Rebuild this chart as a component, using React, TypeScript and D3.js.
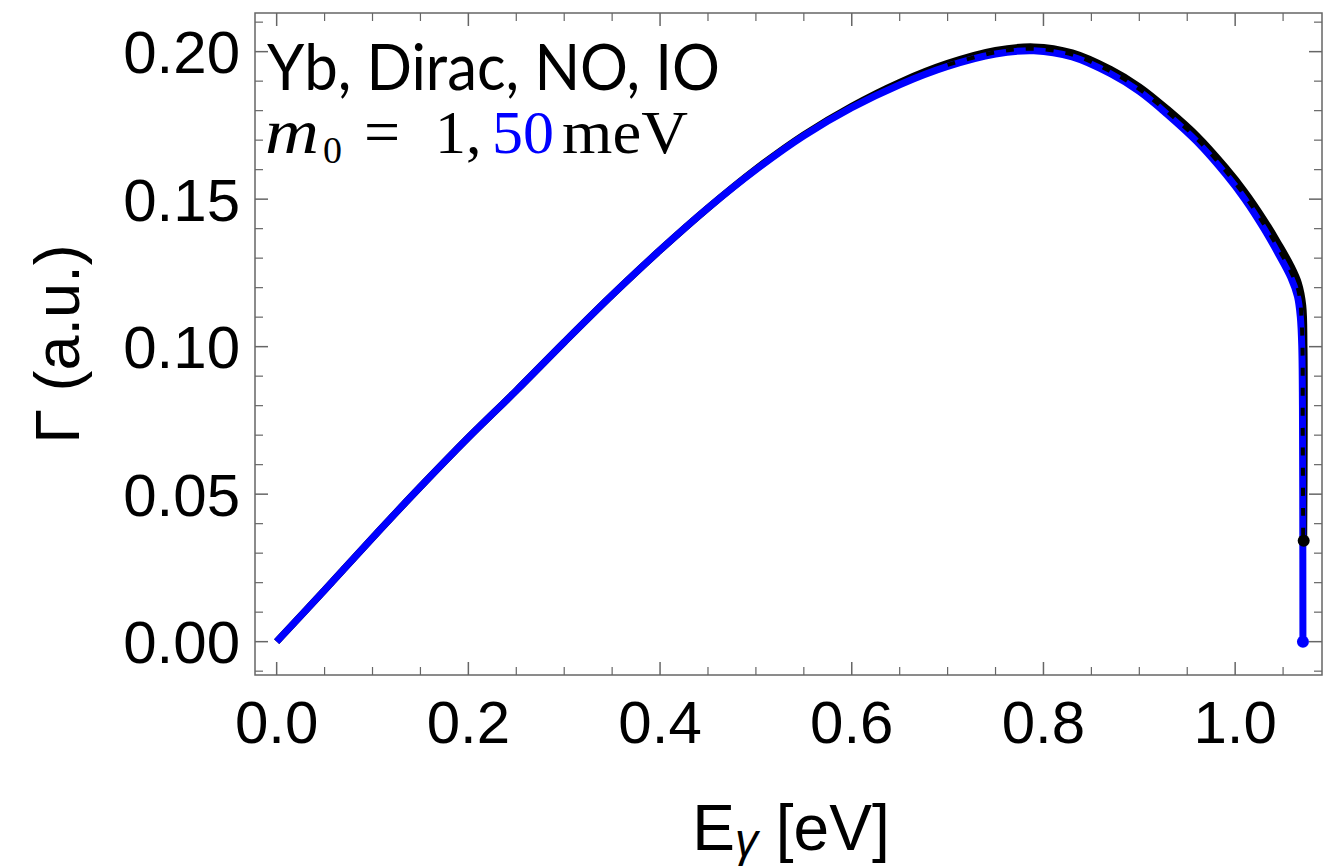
import React from "react";
import * as d3 from "d3";

// ---- data ----
const xTicks = [0, 0.2, 0.4, 0.6, 0.8, 1.0];
const yTicks = [0, 0.05, 0.1, 0.15, 0.2];
const xTickLabels = ["0.0", "0.2", "0.4", "0.6", "0.8", "1.0"];
const yTickLabels = ["0.00", "0.05", "0.10", "0.15", "0.20"];

// m0 = 1 meV (black, solid)
const blackX = [0, 0.05, 0.1, 0.15, 0.2, 0.25, 0.3, 0.35, 0.4, 0.45, 0.5, 0.55, 0.6, 0.65, 0.7, 0.75, 0.79, 0.83, 0.87, 0.9, 0.93, 0.96, 0.99, 1.01, 1.03, 1.045, 1.058, 1.066, 1.0705, 1.0718, 1.072, 1.0715];
const blackY = [0, 0.0175, 0.0352, 0.0525, 0.0692, 0.0851, 0.1015, 0.1175, 0.1327, 0.147, 0.1602, 0.1718, 0.1815, 0.1896, 0.196, 0.2004, 0.2016, 0.1996, 0.194, 0.1881, 0.1803, 0.1715, 0.1607, 0.1525, 0.143, 0.135, 0.1275, 0.1215, 0.114, 0.1, 0.07, 0.0342];

// m0 = 50 meV (blue)
const blueX = [0, 0.05, 0.1, 0.15, 0.2, 0.25, 0.3, 0.35, 0.4, 0.45, 0.5, 0.55, 0.6, 0.65, 0.7, 0.75, 0.79, 0.83, 0.87, 0.9, 0.93, 0.96, 0.99, 1.01, 1.03, 1.045, 1.058, 1.065, 1.068, 1.0695, 1.0702, 1.0705, 1.0707];
const blueY = [0, 0.0175, 0.0352, 0.0525, 0.0692, 0.0851, 0.1015, 0.1175, 0.1327, 0.147, 0.16, 0.1715, 0.181, 0.1888, 0.195, 0.1992, 0.2003, 0.1982, 0.1925, 0.1865, 0.1785, 0.1695, 0.1585, 0.15, 0.14, 0.1315, 0.1235, 0.117, 0.11, 0.1, 0.08, 0.05, 0];

// dashed black (IO) visible part
const ioX = [0.7, 0.75, 0.79, 0.83, 0.87, 0.9, 0.93, 0.96, 0.99, 1.01, 1.03, 1.045, 1.058, 1.066, 1.0695, 1.0705, 1.071];
const ioY = [0.1955, 0.1998, 0.201, 0.199, 0.1933, 0.1873, 0.1794, 0.1705, 0.1596, 0.1512, 0.1415, 0.1333, 0.1255, 0.119, 0.108, 0.07, 0.0342];

const W = 1323;
const H = 866;

export default function App() {
  const x = d3.scaleLinear().domain([-0.0226, 1.0906]).range([255, 1322]);
  const y = d3.scaleLinear().domain([-0.0113, 0.2131]).range([675, 13]);
  const [x0, x1] = x.range();
  const [yb, yt] = y.range();

  const line = d3
    .line<[number, number]>()
    .x((d) => x(d[0]))
    .y((d) => y(d[1]))
    .curve(d3.curveCatmullRom.alpha(0.5));

  const blackPts = blackX.map((v, i) => [v, blackY[i]] as [number, number]);
  const bluePts = blueX.map((v, i) => [v, blueY[i]] as [number, number]);
  const ioPts = ioX.map((v, i) => [v, ioY[i]] as [number, number]);

  const xMinor = d3.range(0, 1.0901, 0.05).filter((v) => !xTicks.some((t) => Math.abs(t - v) < 1e-6));
  const yMinor = d3.range(-0.01, 0.2131, 0.01).filter((v) => !yTicks.some((t) => Math.abs(t - v) < 1e-6));

  const frameColor = "#666";
  const tickFont = "'Liberation Sans', Arial, sans-serif";
  const blackEnd = blackPts[blackPts.length - 1];
  const blueEnd = bluePts[bluePts.length - 1];

  return (
    <div style={{ position: "absolute", left: 0, top: 0 }}>
      <svg width={W} height={H} style={{ display: "block", background: "#fff" }}>
        <defs>
          <clipPath id="clip">
            <rect x={x0} y={yt} width={x1 - x0} height={yb - yt} />
          </clipPath>
        </defs>
        {/* curves */}
        <g clipPath="url(#clip)">
          <path d={line(blackPts) || ""} fill="none" stroke="#000" strokeWidth={7} strokeLinejoin="round" />
          <path d={line(bluePts) || ""} fill="none" stroke="#0000ff" strokeWidth={7} strokeLinejoin="round" />
          <path d={line(ioPts) || ""} fill="none" stroke="#000" strokeWidth={4} strokeDasharray="8 12" />
          <circle cx={x(blackEnd[0])} cy={y(blackEnd[1])} r={6} fill="#000" />
          <circle cx={x(blueEnd[0])} cy={y(blueEnd[1])} r={6} fill="#0000ff" />
        </g>

        {/* frame */}
        <rect x={x0} y={yt} width={x1 - x0} height={yb - yt} fill="none" stroke={frameColor} strokeWidth={1.5} />

        {/* x ticks bottom & top */}
        {xTicks.map((t) => (
          <g key={"xt" + t}>
            <line x1={x(t)} x2={x(t)} y1={yb} y2={yb - 13} stroke={frameColor} strokeWidth={1.5} />
            <line x1={x(t)} x2={x(t)} y1={yt} y2={yt + 13} stroke={frameColor} strokeWidth={1.5} />
          </g>
        ))}
        {xMinor.map((t) => (
          <g key={"xm" + t}>
            <line x1={x(t)} x2={x(t)} y1={yb} y2={yb - 8} stroke={frameColor} strokeWidth={1.2} />
            <line x1={x(t)} x2={x(t)} y1={yt} y2={yt + 8} stroke={frameColor} strokeWidth={1.2} />
          </g>
        ))}
        {/* y ticks left & right */}
        {yTicks.map((t) => (
          <g key={"yt" + t}>
            <line x1={x0} x2={x0 + 13} y1={y(t)} y2={y(t)} stroke={frameColor} strokeWidth={1.5} />
            <line x1={x1} x2={x1 - 13} y1={y(t)} y2={y(t)} stroke={frameColor} strokeWidth={1.5} />
          </g>
        ))}
        {yMinor.map((t) => (
          <g key={"ym" + t}>
            <line x1={x0} x2={x0 + 8} y1={y(t)} y2={y(t)} stroke={frameColor} strokeWidth={1.2} />
            <line x1={x1} x2={x1 - 8} y1={y(t)} y2={y(t)} stroke={frameColor} strokeWidth={1.2} />
          </g>
        ))}

        {/* tick labels */}
        {xTicks.map((t, i) => (
          <text key={"xl" + t} x={x(t)} y={743} textAnchor="middle" fontFamily={tickFont} fontSize={60} fill="#000">
            {xTickLabels[i]}
          </text>
        ))}
        {yTicks.map((t, i) => (
          <text key={"yl" + t} x={240} y={y(t) + 21.5} textAnchor="end" fontFamily={tickFont} fontSize={60} fill="#000">
            {yTickLabels[i]}
          </text>
        ))}

        {/* axis titles */}
        <text x={791} y={850} textAnchor="middle" fontFamily={tickFont} fontSize={64} fill="#000">
          E
          <tspan fontSize={46} dy={6} fontStyle="italic">γ</tspan>
          <tspan dy={-6}> [eV]</tspan>
        </text>
        <text
          transform={`translate(79,${(yt + yb) / 2}) rotate(-90)`}
          textAnchor="middle"
          fontFamily={tickFont}
          fontSize={63}
          fill="#000"
        >
          Γ (a.u.)
        </text>

        {/* in-plot label */}
        <text x={267} y={90} fontFamily="Lato, 'Open Sans', sans-serif" fontSize={64} fill="#000" textLength={453} lengthAdjust="spacingAndGlyphs">
          Yb, Dirac, NO, IO
        </text>
        <g fontFamily="'Liberation Serif', 'DejaVu Serif', serif" fill="#000">
          <text x={265} y={153} fontSize={64} fontStyle="italic" textLength={54} lengthAdjust="spacingAndGlyphs">m</text>
          <text x={323} y={163} fontSize={38}>0</text>
          <text x={364} y={153} fontSize={64}>=</text>
          <text x={435} y={153} fontSize={62}>1,</text>
          <text x={492} y={153} fontSize={62} fill="#0000ff">50</text>
          <text x={562} y={153} fontSize={62} textLength={126} lengthAdjust="spacingAndGlyphs">meV</text>
        </g>
      </svg>
    </div>
  );
}
